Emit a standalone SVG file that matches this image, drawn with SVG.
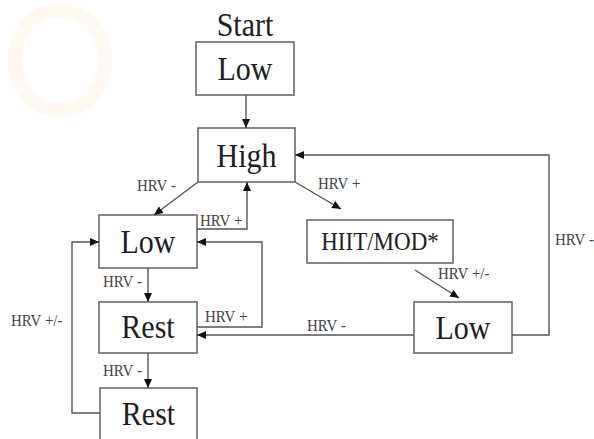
<svg xmlns="http://www.w3.org/2000/svg" width="594" height="439" viewBox="0 0 594 439">
<style>
.box{fill:#fff;stroke:#6a6a6a;stroke-width:1.6}
.nt{font-family:"Liberation Serif","Times New Roman",serif;font-size:30px;fill:#1e1e1e;text-anchor:middle}
.lb{font-family:"Liberation Serif","Times New Roman",serif;font-size:15px;fill:#444}
.cn{fill:none;stroke:#555;stroke-width:1.4}
</style>
<defs>
<marker id="ah" markerUnits="userSpaceOnUse" markerWidth="9" markerHeight="8" refX="9" refY="4" orient="auto">
<path d="M0,0 L9,4 L0,8 z" fill="#111"/>
</marker>
</defs>
<rect width="594" height="439" fill="#fff"/>
<g id="watermark" opacity="0.2">
<ellipse cx="60" cy="60" rx="45" ry="50" fill="none" stroke="#f8e8c0" stroke-width="14"/>
</g>
<g id="start-label"><text class="nt" transform="translate(245,36) scale(1,1.13)">Start</text></g>
<g id="n-low-top"><rect class="box" x="196" y="42" width="98" height="53"/><text class="nt" transform="translate(245,80) scale(1,1.13)">Low</text></g>
<g id="n-high"><rect class="box" x="198" y="128" width="97" height="54"/><text class="nt" transform="translate(246.5,167) scale(1,1.13)">High</text></g>
<g id="n-low-left"><rect class="box" x="99" y="215" width="98" height="53"/><text class="nt" transform="translate(148,253) scale(1,1.13)">Low</text></g>
<g id="n-rest1"><rect class="box" x="99" y="302" width="98" height="51"/><text class="nt" transform="translate(148,338) scale(1,1.13)">Rest</text></g>
<g id="n-rest2"><rect class="box" x="100" y="388" width="97" height="60"/><text class="nt" transform="translate(148.5,425) scale(1,1.13)">Rest</text></g>
<g id="n-hiit"><rect class="box" x="307" y="220" width="146" height="43"/><text class="nt" style="font-size:23px" transform="translate(380,250) scale(1,1.13)">HIIT/MOD*</text></g>
<g id="n-low-right"><rect class="box" x="414" y="302" width="98" height="51"/><text class="nt" transform="translate(463,339) scale(1,1.13)">Low</text></g>
<g id="connectors">
<line class="cn" x1="246" y1="95" x2="246" y2="128" marker-end="url(#ah)"/>
<line class="cn" x1="198" y1="182" x2="154" y2="215" marker-end="url(#ah)"/>
<polyline class="cn" points="197,229 247,229 247,182" marker-end="url(#ah)"/>
<line class="cn" x1="295" y1="182" x2="341" y2="209" marker-end="url(#ah)"/>
<line class="cn" x1="415" y1="270" x2="459" y2="298" marker-end="url(#ah)"/>
<line class="cn" x1="414" y1="335" x2="197" y2="335" marker-end="url(#ah)"/>
<polyline class="cn" points="512,335 549,335 549,155 295,155" marker-end="url(#ah)"/>
<polyline class="cn" points="197,327 262,327 262,242 197,242" marker-end="url(#ah)"/>
<line class="cn" x1="148" y1="268" x2="148" y2="302" marker-end="url(#ah)"/>
<line class="cn" x1="148" y1="353" x2="148" y2="388" marker-end="url(#ah)"/>
<polyline class="cn" points="100,413 72,413 72,242 99,242" marker-end="url(#ah)"/>
</g>
<g id="labels">
<text class="lb" transform="translate(137,191) scale(1,1.1)">HRV -</text>
<text class="lb" transform="translate(200,226) scale(1,1.1)">HRV +</text>
<text class="lb" transform="translate(318,189) scale(1,1.1)">HRV +</text>
<text class="lb" transform="translate(438,279) scale(1,1.1)">HRV +/-</text>
<text class="lb" transform="translate(307,331) scale(1,1.1)">HRV -</text>
<text class="lb" transform="translate(555,245) scale(1,1.1)">HRV -</text>
<text class="lb" transform="translate(205,322) scale(1,1.1)">HRV +</text>
<text class="lb" transform="translate(103,287) scale(1,1.1)">HRV -</text>
<text class="lb" transform="translate(103,376) scale(1,1.1)">HRV -</text>
<text class="lb" transform="translate(11,326) scale(1,1.1)">HRV +/-</text>
</g>
</svg>
